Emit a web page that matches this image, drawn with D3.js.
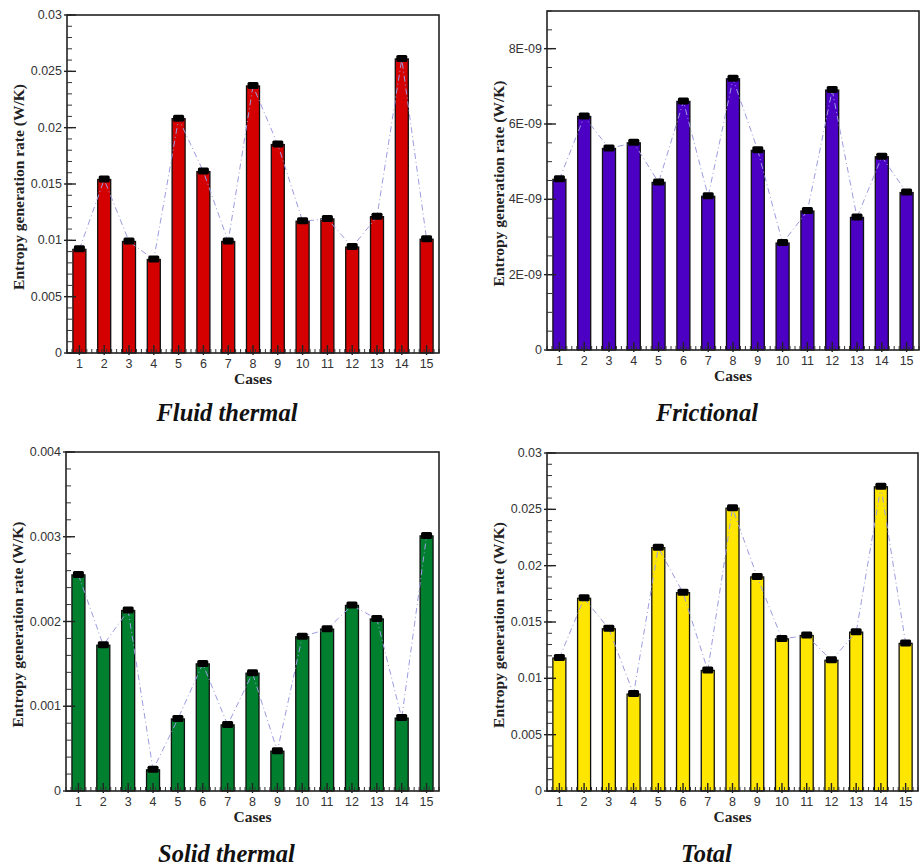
<!DOCTYPE html>
<html>
<head>
<meta charset="utf-8">
<script src="https://cdn.jsdelivr.net/npm/d3@7"></script>
<style>
  body { margin: 0; background: #fff; }
  .tick-label { font-family: "Liberation Sans", Arial, sans-serif; font-size: 12.5px; fill: #333; }
  .axis-title { font-family: "Liberation Serif", "Times New Roman", serif; font-size: 15.5px; font-weight: bold; fill: #222; }
  .panel-title { font-family: "Liberation Serif", "Times New Roman", serif; font-size: 24.5px; font-weight: bold; font-style: italic; fill: #111; }
</style>
</head>
<body>
<div id="chart"></div>
<script>
var width = 921,
    height = 866;

// data
var cases = [1, 2, 3, 4, 5, 6, 7, 8, 9, 10, 11, 12, 13, 14, 15];
var fluidThermal = [0.0092, 0.0154, 0.0099, 0.0083, 0.0208, 0.0161, 0.0099, 0.0237, 0.0185,
                    0.0117, 0.0119, 0.0094, 0.0121, 0.0261, 0.0101];
var frictional = [4.53e-9, 6.2e-9, 5.35e-9, 5.5e-9, 4.45e-9, 6.6e-9, 4.08e-9, 7.2e-9, 5.3e-9,
                  2.84e-9, 3.69e-9, 6.9e-9, 3.52e-9, 5.13e-9, 4.18e-9];
var solidThermal = [0.00255, 0.00172, 0.00213, 0.00025, 0.00085, 0.0015, 0.00078, 0.00139, 0.00047,
                    0.00182, 0.00191, 0.00219, 0.00203, 0.00086, 0.00301];
var total = [0.0118, 0.0171, 0.0144, 0.0086, 0.0216, 0.0176, 0.0107, 0.0251, 0.0190,
             0.0135, 0.0138, 0.0116, 0.0141, 0.0270, 0.0131];

var titles = ["Fluid thermal", "Frictional", "Solid thermal", "Total"];
var fills = ["#d40000", "#4b00c4", "#00802f", "#ffe600"];
var yMax = [0.03, 9e-9, 0.004, 0.03];
var yMajor = [[0, 0.005, 0.01, 0.015, 0.02, 0.025, 0.03],
              [0, 2e-9, 4e-9, 6e-9, 8e-9],
              [0, 0.001, 0.002, 0.003, 0.004],
              [0, 0.005, 0.01, 0.015, 0.02, 0.025, 0.03]];
var yMajorLabels = [["0", "0.005", "0.01", "0.015", "0.02", "0.025", "0.03"],
                    ["0", "2E-09", "4E-09", "6E-09", "8E-09"],
                    ["0", "0.001", "0.002", "0.003", "0.004"],
                    ["0", "0.005", "0.01", "0.015", "0.02", "0.025", "0.03"]];
var yMinorStep = [0.001, 0.5e-9, 0.0002, 0.001];
var series = [fluidThermal, frictional, solidThermal, total];

// plot frames
var frames = [
  {left: 67, top: 15, right: 439, bottom: 353, caption: 421},
  {left: 547, top: 11, right: 919, bottom: 350, caption: 421},
  {left: 66, top: 452, right: 439, bottom: 791, caption: 862},
  {left: 547, top: 453, right: 918, bottom: 791, caption: 862}
];

var svg = d3.select("#chart").append("svg")
  .attr("width", width)
  .attr("height", height);

function drawPanel(p) {
  var f = frames[p],
      values = series[p];
  var g = svg.append("g").attr("class", "panel");

  var x = d3.scaleLinear().domain([0.5, 15.5]).range([f.left, f.right]);
  var y = d3.scaleLinear().domain([0, yMax[p]]).range([f.bottom, f.top]);
  var barW = 13;

  // bars
  g.selectAll("rect.bar")
    .data(values)
    .enter()
    .append("rect")
    .attr("class", "bar")
    .attr("x", function(d, i) { return x(cases[i]) - barW / 2; })
    .attr("y", function(d) { return y(d); })
    .attr("width", barW)
    .attr("height", function(d) { return f.bottom - y(d); })
    .attr("fill", fills[p])
    .attr("stroke", "#111")
    .attr("stroke-width", 1.3);

  // dash-dot connecting line
  var line = d3.line()
    .x(function(d, i) { return x(cases[i]); })
    .y(function(d) { return y(d); });
  g.append("path")
    .datum(values)
    .attr("d", line)
    .attr("fill", "none")
    .attr("stroke", "#9c9ce0")
    .attr("stroke-width", 1)
    .attr("stroke-dasharray", "6,3,1,3");

  // black markers on the bar tops
  g.selectAll("rect.mark")
    .data(values)
    .enter()
    .append("rect")
    .attr("class", "mark")
    .attr("x", function(d, i) { return x(cases[i]) - 5.5; })
    .attr("y", function(d) { return y(d) - 4; })
    .attr("width", 11)
    .attr("height", 7)
    .attr("rx", 1.5)
    .attr("fill", "#000");

  // y ticks (inward)
  var minors = [];
  for (var k = 0; k * yMinorStep[p] <= yMax[p] * 1.0001; k++) minors.push(k * yMinorStep[p]);
  g.selectAll("line.yminor")
    .data(minors)
    .enter()
    .append("line")
    .attr("x1", f.left).attr("x2", f.left + 5)
    .attr("y1", function(d) { return y(d); })
    .attr("y2", function(d) { return y(d); })
    .attr("stroke", "#333").attr("stroke-width", 1);
  g.selectAll("line.ymajor")
    .data(yMajor[p])
    .enter()
    .append("line")
    .attr("x1", f.left - 3).attr("x2", f.left + 9)
    .attr("y1", function(d) { return y(d); })
    .attr("y2", function(d) { return y(d); })
    .attr("stroke", "#222").attr("stroke-width", 1.4);
  g.selectAll("text.ytl")
    .data(yMajor[p])
    .enter()
    .append("text")
    .attr("class", "tick-label")
    .attr("x", f.left - 5)
    .attr("y", function(d) { return y(d) + 4; })
    .attr("text-anchor", "end")
    .text(function(d, i) { return yMajorLabels[p][i]; });

  // x ticks (inward), minor every 0.2 case
  var xMinors = [];
  for (var m = 0; m <= 75; m++) xMinors.push(0.5 + m * 0.2);
  g.selectAll("line.xminor")
    .data(xMinors)
    .enter()
    .append("line")
    .attr("x1", function(d) { return x(d); })
    .attr("x2", function(d) { return x(d); })
    .attr("y1", f.bottom).attr("y2", f.bottom - 4)
    .attr("stroke", "#333").attr("stroke-width", 1);
  g.selectAll("line.xmajor")
    .data(cases)
    .enter()
    .append("line")
    .attr("x1", function(d) { return x(d); })
    .attr("x2", function(d) { return x(d); })
    .attr("y1", f.bottom + 2).attr("y2", f.bottom - 8)
    .attr("stroke", "#222").attr("stroke-width", 1.4);
  g.selectAll("text.xtl")
    .data(cases)
    .enter()
    .append("text")
    .attr("class", "tick-label")
    .attr("x", function(d) { return x(d); })
    .attr("y", f.bottom + 15)
    .attr("text-anchor", "middle")
    .text(function(d) { return d; });

  // frame
  g.append("rect")
    .attr("x", f.left).attr("y", f.top)
    .attr("width", f.right - f.left)
    .attr("height", f.bottom - f.top)
    .attr("fill", "none")
    .attr("stroke", "#222")
    .attr("stroke-width", 1.6);

  // axis titles
  g.append("text")
    .attr("class", "axis-title")
    .attr("x", (f.left + f.right) / 2)
    .attr("y", f.bottom + 31)
    .attr("text-anchor", "middle")
    .text("Cases");
  g.append("text")
    .attr("class", "axis-title")
    .attr("transform", "translate(" + (f.left - 43) + "," + ((f.top + f.bottom) / 2 + 3) + ") rotate(-90)")
    .attr("text-anchor", "middle")
    .text("Entropy generation rate (W/K)");

  // panel caption
  g.append("text")
    .attr("class", "panel-title")
    .attr("x", (f.left + f.right) / 2 - 26)
    .attr("y", f.caption)
    .attr("text-anchor", "middle")
    .text(titles[p]);
}

for (var p = 0; p < 4; p++) drawPanel(p);
</script>
</body>
</html>
